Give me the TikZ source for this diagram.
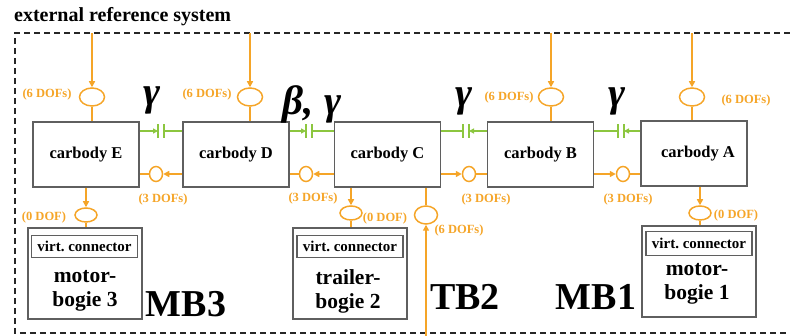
\documentclass[tikz,border=0pt]{standalone}
\usepackage{fontspec}
\setmainfont{Liberation Serif}
\usetikzlibrary{shapes.geometric,arrows.meta}
\definecolor{ora}{RGB}{245,165,40}
\definecolor{grn}{RGB}{140,198,63}
\definecolor{bx}{RGB}{95,95,95}
\frenchspacing
\begin{document}
\begin{tikzpicture}[x=1pt,y=-1pt,
  car/.style={draw=bx,line width=1.5pt,minimum width=106pt,minimum height=65pt,inner sep=0pt,
    font=\fontsize{16.5}{18}\selectfont\bfseries},
  bogie/.style={draw=bx,line width=1.6pt,minimum width=114pt,minimum height=91pt,inner sep=0pt},
  virt/.style={draw=bx,line width=1.6pt,minimum width=106pt,minimum height=22pt,inner sep=0pt,
    font=\fontsize{15}{16}\selectfont\bfseries},
  btext/.style={align=center,font=\fontsize{21.5}{24}\selectfont\bfseries},
  big/.style={font=\fontsize{38}{40}\selectfont\bfseries},
  greek/.style={font=\fontsize{41}{43}\selectfont\bfseries\itshape,inner sep=0pt},
  dof/.style={text=ora,font=\fontsize{12.5}{14}\selectfont\bfseries,inner sep=0pt},
  ellbig/.style={ellipse,draw=ora,line width=1.5pt,minimum width=25pt,minimum height=18pt,inner sep=0pt},
  ellbot/.style={ellipse,draw=ora,line width=1.5pt,minimum width=22pt,minimum height=14pt,inner sep=0pt},
  ellsm/.style={ellipse,draw=ora,line width=1.5pt,minimum width=13pt,minimum height=15pt,inner sep=0pt},
  oline/.style={draw=ora,line width=1.5pt},
  oarrow/.style={draw=ora,line width=1.5pt,-{Triangle[length=6pt,width=6pt]}},
  gline/.style={draw=grn,line width=1.6pt},
  garrow/.style={draw=grn,line width=1.6pt,-{Triangle[length=5pt,width=5pt]}},
  border/.style={draw=black!85,line width=1.5pt,dash pattern=on 6pt off 4pt}
]
\useasboundingbox (0,0) rectangle (790,336);

% title and border
\node[anchor=west,inner sep=0pt,font=\fontsize{20}{22}\selectfont\bfseries] (title) at (14,17) {external reference system};
\draw[border] (790,33) -- (15,33) -- (15,333) -- (790,333);

% carbodies
\node[car] (E) at (86,154.5) {carbody E};
\node[car] (D) at (236,154.5) {carbody D};
\node[car] (C) at (387.5,154.5) {carbody C};
\node[car] (B) at (540.5,154.5) {carbody B};
\node[car] (A) at (694,153.5) {};
\node[font=\fontsize{16.5}{18}\selectfont\bfseries,inner sep=0pt] (Atext) at (698,153.5) {carbody A};

% top connectors
\coordinate (tE) at (92,33);
\coordinate (tD) at (250,33);
\coordinate (tB) at (551,33);
\coordinate (tA) at (692,33);
\node[ellbig] (oE) at (92,97) {};
\node[ellbig] (oD) at (250,97) {};
\node[ellbig] (oB) at (551,97) {};
\node[ellbig] (oA) at (692,97) {};
\foreach \n/\b in {E/E,D/D,B/B,A/A}{
  \draw[oarrow] (t\n) -- (o\n.north);
  \draw[oline] (o\n.south) -- (o\n.south |- \b.north);
}
\node[dof] (lE) at (47,94) {(6 DOFs)};
\node[dof] (lD) at (207,94) {(6 DOFs)};
\node[dof] (lB) at (509,97) {(6 DOFs)};
\node[dof] (lA) at (746,100) {(6 DOFs)};

% green connectors
\coordinate (g1a) at (158,131); \coordinate (g1b) at (164,131);
\coordinate (g2a) at (306,131); \coordinate (g2b) at (312,131);
\coordinate (g3a) at (463,131); \coordinate (g3b) at (469,131);
\coordinate (g4a) at (618,131); \coordinate (g4b) at (624,131);
\foreach \g in {g1a,g1b,g2a,g2b,g3a,g3b,g4a,g4b}{
  \draw[gline] ([yshift=-7pt]\g) -- ([yshift=7pt]\g);
}
\draw[garrow] (g1a -| E.east) -- (g1a);
\draw[gline] (g1b) -- (g1b -| D.west);
\draw[garrow] (g2a -| D.east) -- (g2a);
\draw[gline] (g2b) -- (g2b -| C.west);
\draw[gline] (g3a -| C.east) -- (g3a);
\draw[garrow] (g3b -| B.west) -- (g3b);
\draw[gline] (g4a -| B.east) -- (g4a);
\draw[garrow] (g4b -| A.west) -- (g4b);

% greek labels
\node[greek] (gam1) at (152,100) {γ};
\node[greek] (betgam) at (312,104) {β, γ};
\node[greek] (gam3) at (464,101) {γ};
\node[greek] (gam4) at (617,101) {γ};

% lower horizontal connectors
\node[ellsm] (sED) at (156,174) {};
\node[ellsm] (sDC) at (306,174) {};
\node[ellsm] (sCB) at (469,174) {};
\node[ellsm] (sBA) at (623,174) {};
\draw[oarrow] (sED -| D.west) -- (sED.east);
\draw[oline] (sED.west) -- (sED -| E.east);
\draw[oarrow] (sDC -| C.west) -- (sDC.east);
\draw[oline] (sDC.west) -- (sDC -| D.east);
\draw[oarrow] (sCB -| C.east) -- (sCB.west);
\draw[oline] (sCB.east) -- (sCB -| B.west);
\draw[oarrow] (sBA -| B.east) -- (sBA.west);
\draw[oline] (sBA.east) -- (sBA -| A.west);
\node[dof] (l3a) at (163,199) {(3 DOFs)};
\node[dof] (l3b) at (313,198) {(3 DOFs)};
\node[dof] (l3c) at (486,199) {(3 DOFs)};
\node[dof] (l3d) at (628,199) {(3 DOFs)};

% bogies
\node[bogie] (MB3) at (85,273.5) {};
\node[virt] (v3) at (84.5,246.5) {virt. connector};
\node[btext] (t3) at (85,291) {motor-\\bogie 3};
\node[bogie] (TB2) at (350,273.5) {};
\node[virt] (v2) at (350,246.5) {virt. connector};
\node[btext] (t2) at (348,291) {trailer-\\bogie 2};
\node[bogie] (MB1) at (699,271.5) {};
\node[virt,minimum height=24pt] (v1) at (699,243.5) {virt. connector};
\node[btext] (t1) at (697,284) {motor-\\bogie 1};

% bottom connectors
\node[ellbot] (bE) at (86,215) {};
\node[ellbot] (bC) at (351,213) {};
\node[ellbot] (bA) at (700,213) {};
\draw[oarrow] (bE |- E.south) -- (bE.north);
\draw[oline] (bE.south) -- (bE.south |- MB3.north);
\draw[oarrow] (bC |- C.south) -- (bC.north);
\draw[oline] (bC.south) -- (bC.south |- TB2.north);
\draw[oarrow] (bA |- A.south) -- (bA.north);
\draw[oline] (bA.south) -- (bA.south |- MB1.north);
\node[dof] (l0a) at (44,217) {(0 DOF)};
\node[dof] (l0b) at (385,218) {(0 DOF)};
\node[dof] (l0c) at (736,215) {(0 DOF)};

% TB2 external connector
\coordinate (tb) at (426,336);
\node[ellbig,minimum width=23pt] (oT) at (426,215) {};
\draw[oarrow] (tb) -- (oT.south);
\draw[oline] (oT.north) -- (oT.north |- C.south);
\node[dof] (l6T) at (459,230) {(6 DOFs)};

% big labels
\node[big] (lMB3) at (186,304) {MB3};
\node[big] (lTB2) at (465,297) {TB2};
\node[big] (lMB1) at (596,297) {MB1};
\end{tikzpicture}
\end{document}
